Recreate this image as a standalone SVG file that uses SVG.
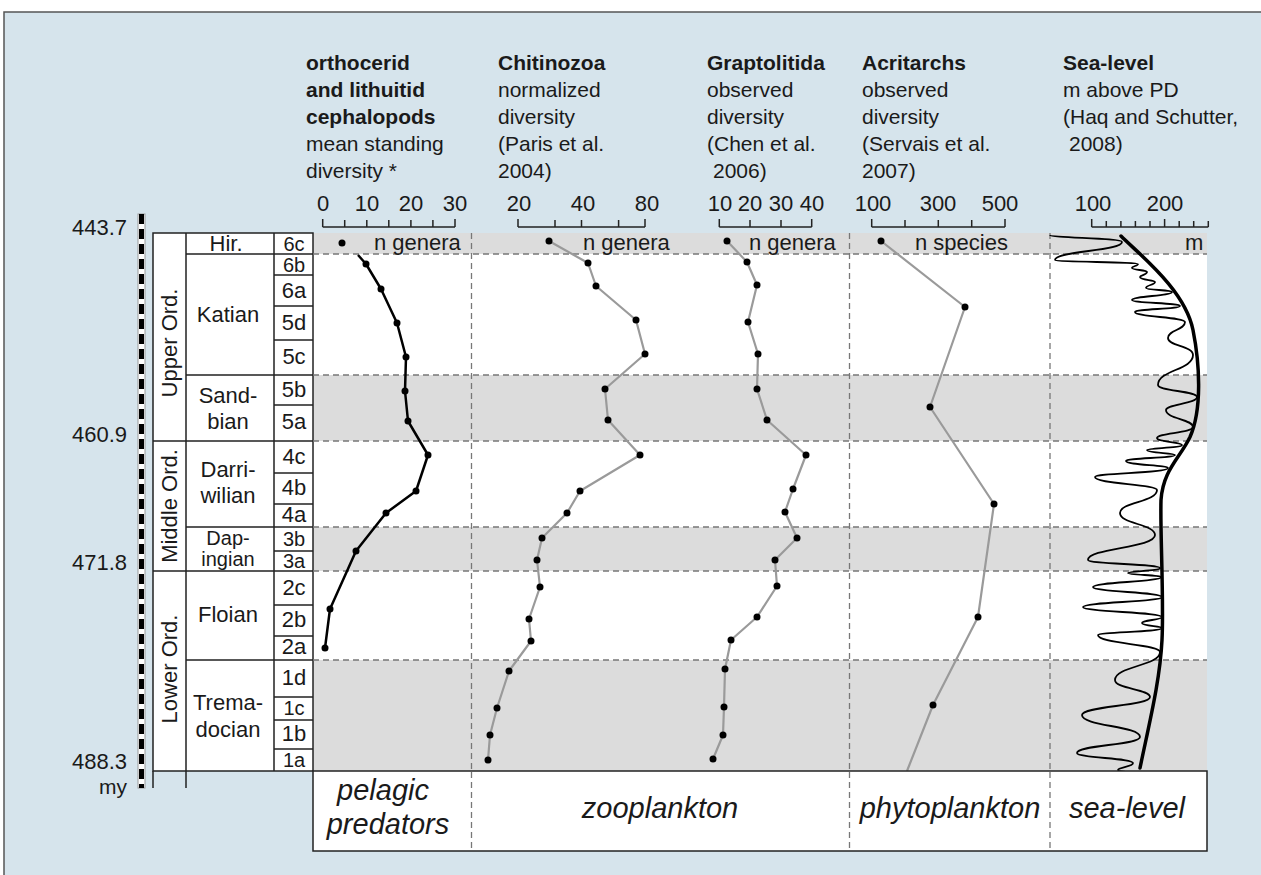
<svg xmlns="http://www.w3.org/2000/svg" width="1261" height="875" viewBox="0 0 1261 875">
<style>
.t{font-family:"Liberation Sans",Arial,sans-serif;font-size:21px;fill:#1a1a1a}
.s{font-size:22px}
.n{font-size:20px}
.b{font-weight:bold}
.c{text-anchor:middle}
.r{text-anchor:end}
.i{font-style:italic;font-size:29px;text-anchor:middle}
.tb{fill:#fff;stroke:#222;stroke-width:1.5}
.ln{stroke:#222;stroke-width:1.5;fill:none}
.dash{stroke:#777;stroke-width:1.3;stroke-dasharray:6 4;fill:none}
.ax{stroke:#222;stroke-width:1.5;fill:none}
.gl{stroke:#9a9a9a;stroke-width:2.2;fill:none;stroke-linejoin:round}
.kl{stroke:#000;stroke-width:2.5;fill:none;stroke-linejoin:round}
.band{fill:#dcdcdc}
</style>
<rect x="4" y="12" width="1262" height="870" fill="#d6e4ec" stroke="#555" stroke-width="1.5"/>

<g id="header">
<text class="t b" x="306" y="70">orthocerid</text>
<text class="t b" x="306" y="97">and lithuitid</text>
<text class="t b" x="306" y="124">cephalopods</text>
<text class="t" x="306" y="151">mean standing</text>
<text class="t" x="306" y="178">diversity *</text>
<text class="t b" x="498" y="70">Chitinozoa</text>
<text class="t" x="498" y="97">normalized</text>
<text class="t" x="498" y="124">diversity</text>
<text class="t" x="498" y="151">(Paris et al.</text>
<text class="t" x="498" y="178">2004)</text>
<text class="t b" x="707" y="70">Graptolitida</text>
<text class="t" x="707" y="97">observed</text>
<text class="t" x="707" y="124">diversity</text>
<text class="t" x="707" y="151">(Chen et al.</text>
<text class="t" x="713" y="178">2006)</text>
<text class="t b" x="862" y="70">Acritarchs</text>
<text class="t" x="862" y="97">observed</text>
<text class="t" x="862" y="124">diversity</text>
<text class="t" x="862" y="151">(Servais et al.</text>
<text class="t" x="862" y="178">2007)</text>
<text class="t b" x="1063" y="70">Sea-level</text>
<text class="t" x="1063" y="97">m above PD</text>
<text class="t" x="1063" y="124">(Haq and Schutter,</text>
<text class="t" x="1069" y="151">2008)</text>
</g>

<g id="axes">
<path class="ax" d="M322.7,227H455M322.7,219V227M344.7,220V227M366.8,220V227M388.8,220V227M410.9,220V227M432.9,220V227M455,219V227"/>
<text class="t s c" x="323" y="211">0</text><text class="t s c" x="367" y="211">10</text><text class="t s c" x="411" y="211">20</text><text class="t s c" x="455" y="211">30</text>
<path class="ax" d="M518,227H645M518,219V227M555,220V227M581.5,220V227M618.6,220V227M645,219V227"/>
<text class="t s c" x="519" y="211">20</text><text class="t s c" x="583" y="211">40</text><text class="t s c" x="647" y="211">80</text>
<path class="ax" d="M719.3,227H811.7M719.3,219V227M750,220V227M781,220V227M811.7,219V227"/>
<text class="t s c" x="720" y="211">10</text><text class="t s c" x="750" y="211">20</text><text class="t s c" x="781" y="211">30</text><text class="t s c" x="812" y="211">40</text>
<path class="ax" d="M871.7,227H1005M871.7,219V227M905,220V227M938.3,220V227M971.7,220V227M1005,219V227"/>
<text class="t s c" x="873" y="211">100</text><text class="t s c" x="938" y="211">300</text><text class="t s c" x="1000" y="211">500</text>
<path class="ax" d="M1091.7,227H1208.3M1091.7,219V227M1106.3,221V227M1120.9,221V227M1135.4,221V227M1150,221V227M1164.6,219V227M1179.2,221V227M1193.7,221V227M1208.3,221V227"/>
<text class="t s c" x="1093" y="211">100</text><text class="t s c" x="1165" y="211">200</text>
</g>

<g id="timescale">
<rect x="138" y="214" width="7" height="574" fill="#fff" stroke="#999" stroke-width="1"/>
<line x1="141.5" y1="214" x2="141.5" y2="788" stroke="#000" stroke-width="5" stroke-dasharray="10 5"/>
<text class="t s r" x="127" y="235">443.7</text>
<text class="t s r" x="127" y="442">460.9</text>
<text class="t s r" x="127" y="570">471.8</text>
<text class="t s r" x="127" y="769">488.3</text>
<text class="t r" x="127" y="794">my</text>
</g>

<g id="plot-bg">
<rect x="313" y="233" width="894" height="538" fill="#fff"/>
<rect class="band" x="313" y="233" width="894" height="21"/>
<rect class="band" x="313" y="375" width="894" height="66"/>
<rect class="band" x="313" y="527" width="894" height="44"/>
<rect class="band" x="313" y="660" width="894" height="111"/>
</g>

<g id="stage-table">
<rect class="tb" x="153" y="233" width="160" height="538"/>
<path class="ln" d="M153,771V788M186,233V788M274,233V771"/>
<path class="ln" d="M153,441H313M153,571H313M186,254H313M186,375H313M186,527H313M186,660H313"/>
<path class="ln" d="M274,275H313M274,306H313M274,340H313M274,405H313M274,473H313M274,504H313M274,551H313M274,605H313M274,636H313M274,697H313M274,720H313M274,749H313"/>
<text class="t s c" transform="translate(177,343) rotate(-90)">Upper Ord.</text>
<text class="t s c" transform="translate(177,506) rotate(-90)">Middle Ord.</text>
<text class="t s c" transform="translate(177,669) rotate(-90)">Lower Ord.</text>
<text class="t s c" x="226" y="251">Hir.</text>
<text class="t s c" x="228" y="322">Katian</text>
<text class="t s c" x="228" y="403">Sand-</text>
<text class="t s c" x="228" y="429">bian</text>
<text class="t s c" x="228" y="477">Darri-</text>
<text class="t s c" x="228" y="503">wilian</text>
<text class="t n c" x="228" y="545">Dap-</text>
<text class="t n c" x="228" y="566">ingian</text>
<text class="t s c" x="228" y="622">Floian</text>
<text class="t s c" x="228" y="710">Trema-</text>
<text class="t s c" x="228" y="737">docian</text>
<text class="t n c" x="294" y="251">6c</text>
<text class="t n c" x="294" y="272">6b</text>
<text class="t s c" x="294" y="298">6a</text>
<text class="t s c" x="294" y="330">5d</text>
<text class="t s c" x="294" y="364">5c</text>
<text class="t s c" x="294" y="397">5b</text>
<text class="t s c" x="294" y="429">5a</text>
<text class="t s c" x="294" y="464">4c</text>
<text class="t s c" x="294" y="495">4b</text>
<text class="t s c" x="294" y="522">4a</text>
<text class="t n c" x="294" y="546">3b</text>
<text class="t n c" x="294" y="568">3a</text>
<text class="t s c" x="294" y="595">2c</text>
<text class="t s c" x="294" y="627">2b</text>
<text class="t s c" x="294" y="654">2a</text>
<text class="t s c" x="294" y="685">1d</text>
<text class="t n c" x="294" y="715">1c</text>
<text class="t s c" x="294" y="741">1b</text>
<text class="t n c" x="294" y="767">1a</text>
</g>

<g id="grid">
<path class="dash" d="M313,254H1207M313,375H1207M313,441H1207M313,527H1207M313,571H1207M313,660H1207"/>
<path class="dash" d="M471.5,233V851M849.5,233V851M1050,233V851"/>
</g>

<g id="units">
<text class="t s" x="374" y="250">n genera</text>
<text class="t s" x="583" y="250">n genera</text>
<text class="t s" x="749" y="250">n genera</text>
<text class="t s" x="915" y="250">n species</text>
<text class="t s" x="1185" y="250">m</text>
</g>

<g id="cephalopods">
<polyline class="kl" points="358,255 366,264 381,289 397,323 406,357 405,391 408,421 428,455 416,491 386,513 356,551 330,609 325,648"/>
<g fill="#000">
<circle cx="342" cy="243" r="3.5"/><circle cx="366" cy="264" r="3.5"/><circle cx="381" cy="289" r="3.5"/><circle cx="397" cy="323" r="3.5"/><circle cx="406" cy="357" r="3.5"/><circle cx="405" cy="391" r="3.5"/><circle cx="408" cy="421" r="3.5"/><circle cx="428" cy="455" r="3.5"/><circle cx="416" cy="491" r="3.5"/><circle cx="386" cy="513" r="3.5"/><circle cx="356" cy="551" r="3.5"/><circle cx="330" cy="609" r="3.5"/><circle cx="325" cy="648" r="3.5"/>
</g>
</g>

<g id="chitinozoa">
<polyline class="gl" points="549,241 588,263 596,286 636,320 645,354 605,389 608,420 640,455 580,491 567,513 542,538 537,560 540,587 529,619 531,641 509,671 497,708 490,735 488,760"/>
<g fill="#000">
<circle cx="549" cy="241" r="3.5"/><circle cx="588" cy="263" r="3.5"/><circle cx="596" cy="286" r="3.5"/><circle cx="636" cy="320" r="3.5"/><circle cx="645" cy="354" r="3.5"/><circle cx="605" cy="389" r="3.5"/><circle cx="608" cy="420" r="3.5"/><circle cx="640" cy="455" r="3.5"/><circle cx="580" cy="491" r="3.5"/><circle cx="567" cy="513" r="3.5"/><circle cx="542" cy="538" r="3.5"/><circle cx="537" cy="560" r="3.5"/><circle cx="540" cy="587" r="3.5"/><circle cx="529" cy="619" r="3.5"/><circle cx="531" cy="641" r="3.5"/><circle cx="509" cy="671" r="3.5"/><circle cx="497" cy="708" r="3.5"/><circle cx="490" cy="735" r="3.5"/><circle cx="488" cy="760" r="3.5"/>
</g>
</g>

<g id="graptolitida">
<polyline class="gl" points="727,241 747,262 757,285 748,322 758,354 757,389 767,420 806,455 793,489 785,512 797,538 775,560 777,586 757,617 731,640 725,669 724,707 723,735 713,759"/>
<g fill="#000">
<circle cx="727" cy="241" r="3.5"/><circle cx="747" cy="262" r="3.5"/><circle cx="757" cy="285" r="3.5"/><circle cx="748" cy="322" r="3.5"/><circle cx="758" cy="354" r="3.5"/><circle cx="757" cy="389" r="3.5"/><circle cx="767" cy="420" r="3.5"/><circle cx="806" cy="455" r="3.5"/><circle cx="793" cy="489" r="3.5"/><circle cx="785" cy="512" r="3.5"/><circle cx="797" cy="538" r="3.5"/><circle cx="775" cy="560" r="3.5"/><circle cx="777" cy="586" r="3.5"/><circle cx="757" cy="617" r="3.5"/><circle cx="731" cy="640" r="3.5"/><circle cx="725" cy="669" r="3.5"/><circle cx="724" cy="707" r="3.5"/><circle cx="723" cy="735" r="3.5"/><circle cx="713" cy="759" r="3.5"/>
</g>
</g>

<g id="acritarchs">
<polyline class="gl" points="881,241 965,307 930,407 994,504 978,617 933,705 907,771"/>
<g fill="#000">
<circle cx="881" cy="241" r="3.5"/><circle cx="965" cy="307" r="3.5"/><circle cx="930" cy="407" r="3.5"/><circle cx="994" cy="504" r="3.5"/><circle cx="978" cy="617" r="3.5"/><circle cx="933" cy="705" r="3.5"/>
</g>
</g>

<g id="sea-level">
<path fill="none" stroke="#000" stroke-width="1.8" d="M1050,235 C1050,238 1122,238 1122,242 C1122,251 1055,251 1055,260 C1055,262 1138,262 1138,264 C1138,266 1132,266 1132,268 C1132,270 1147,270 1147,272 C1147,275 1140,275 1140,277 C1140,280 1155,280 1155,282 C1155,285 1146,285 1146,288 C1146,290 1172,290 1172,292 C1172,296 1132,296 1132,300 C1132,303 1180,303 1180,306 C1180,309 1135,309 1135,312 C1135,317 1185,317 1185,322 C1185,330 1168,330 1168,338 C1168,346 1193,346 1193,355 C1193,370 1158,370 1158,385 C1158,391 1197,391 1197,397 C1197,404 1166,404 1166,410 C1166,419 1193,419 1193,427 C1193,433 1157,433 1157,438 C1157,442 1182,442 1182,445 C1182,448 1147,448 1147,450 C1147,453 1175,453 1175,455 C1175,458 1126,458 1126,461 C1126,465 1168,465 1168,468 C1168,473 1095,473 1095,477 C1095,484 1157,484 1157,490 C1157,502 1120,502 1120,513 C1120,524 1155,524 1155,535 C1155,548 1088,548 1088,560 C1088,564 1160,564 1160,568 C1160,571 1128,571 1128,573 C1128,575 1161,575 1161,577 C1161,582 1093,582 1093,587 C1093,592 1162,592 1162,597 C1162,602 1083,602 1083,607 C1083,612 1162,612 1162,617 C1162,620 1142,620 1142,623 C1142,626 1162,626 1162,628 C1162,632 1098,632 1098,635 C1098,644 1160,644 1160,652 C1160,666 1115,666 1115,680 C1115,689 1150,689 1150,697 C1150,706 1082,706 1082,715 C1082,726 1140,726 1140,737 C1140,745 1077,745 1077,753 C1077,758 1133,758 1133,763 C1133,767 1118,767 1118,770 C1118,772 1133,772 1133,773"/>
<path fill="none" stroke="#000" stroke-width="3.5" stroke-linecap="round" d="M1121,236 C1140,255 1185,290 1193,330 C1200,365 1202,410 1190,437 C1180,458 1163,470 1161,500 C1160,530 1164,600 1162,640 C1160,680 1150,720 1140,768"/>
</g>

<g id="bottom-labels">
<rect x="313" y="771" width="894" height="80" fill="#fff" stroke="#222" stroke-width="1.5"/>
<path class="dash" d="M471.5,772V851M849.5,772V851M1050,772V851"/>
<text class="t i" x="383" y="800">pelagic</text>
<text class="t i" x="388" y="834">predators</text>
<text class="t i" x="660" y="818">zooplankton</text>
<text class="t i" x="950" y="818">phytoplankton</text>
<text class="t i" x="1127" y="818">sea-level</text>
</g>
</svg>
